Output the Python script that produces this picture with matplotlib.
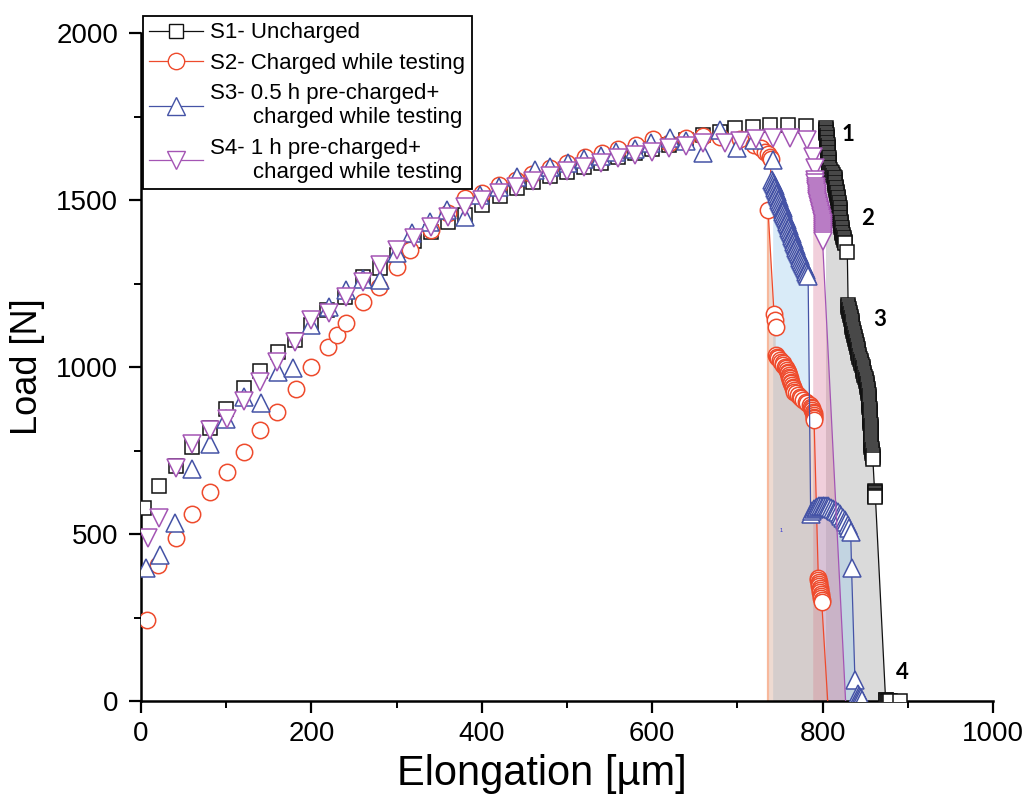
import matplotlib
matplotlib.use("Agg")
import matplotlib.pyplot as plt
from matplotlib.ticker import MultipleLocator
from matplotlib.lines import Line2D
from matplotlib.collections import LineCollection
import numpy as np

# ---------------- data ----------------
# S1 - Uncharged
s1_rise_x = [3, 21, 41, 60, 81, 100, 121, 140, 161, 181, 200, 218, 239, 261, 281, 300, 320, 340, 360, 380,
             400, 421, 441, 460, 480, 500, 520, 540, 560, 580, 600, 620, 640, 660, 680, 697, 718, 738, 759, 781]
s1_rise_y = [578, 644, 704, 761, 818, 873, 938, 989, 1046, 1081, 1126, 1171, 1210, 1270, 1296, 1335, 1378, 1404, 1434, 1455,
             1485, 1512, 1536, 1554, 1572, 1585, 1598, 1612, 1628, 1642, 1652, 1665, 1680, 1695, 1705, 1715, 1718, 1724, 1724, 1722]
s1_drop_x = [804, 804, 804, 804, 805, 805, 805, 805, 805, 805, 806, 806, 806, 806, 806, 806, 806, 806, 807, 807,
             807, 807, 807, 807,
             808, 809, 810, 811, 812, 813, 814, 814,
             815, 815, 815, 816, 816, 816, 817, 817, 817, 818, 818, 818, 818, 819, 819, 819, 820, 820, 820, 820,
             821, 821, 821, 821, 822, 822, 822, 822, 823, 823, 823, 823,
             824, 824, 825, 825, 826, 826,
             829,
             830, 830, 831, 831, 832, 832, 833, 833, 834, 834, 835, 835, 836, 836, 837, 837, 838, 838, 839, 839,
             840, 840,
             841, 841, 842, 843, 843, 844, 845, 845, 846, 847, 847, 848, 849, 849, 850, 851,
             851, 852, 852, 852, 853, 853, 853, 854, 854, 854, 855, 855, 855, 855, 856, 856, 856,
             856, 856, 856, 856, 856, 857, 857, 857, 857, 857, 857, 857, 857, 857, 857, 857, 857,
             858, 858, 858, 859, 859, 859,
             861, 861, 861, 861, 861, 862, 874, 875, 876, 877, 878, 879, 891]
s1_drop_y = [1715, 1710, 1705, 1700, 1695, 1690, 1685, 1680, 1675, 1670, 1665, 1660, 1655, 1650, 1645, 1640, 1635, 1630, 1625, 1620,
             1615, 1610, 1605, 1600,
             1595, 1590, 1585, 1580, 1575, 1570, 1565, 1560,
             1555, 1550, 1545, 1540, 1535, 1530, 1525, 1520, 1515, 1510, 1505, 1500, 1495, 1490, 1485, 1480, 1475, 1470, 1465, 1460,
             1455, 1450, 1445, 1440, 1435, 1430, 1425, 1420, 1415, 1410, 1405, 1400,
             1395, 1390, 1385, 1380, 1375, 1370,
             1344,
             1186, 1180, 1174, 1168, 1162, 1156, 1150, 1144, 1138, 1132, 1126, 1120, 1114, 1108, 1102, 1096, 1090, 1084, 1078, 1072,
             1066, 1060,
             1054, 1048, 1042, 1036, 1030, 1024, 1018, 1012, 1006, 1000, 994, 988, 982, 976, 970, 964,
             958, 952, 946, 940, 934, 928, 922, 916, 910, 904, 898, 892, 886, 880, 874, 868, 862,
             856, 850, 844, 838, 832, 826, 820, 814, 808, 802, 796, 790, 784, 778, 772, 766, 760,
             754, 748, 742, 736, 730, 724,
             630, 626, 622, 618, 614, 611, 2, 2, 1, 1, 1, 0, 0]

# S2 - Charged while testing
s2_rise_x = [7, 20, 41, 60, 81, 101, 121, 140, 160, 182, 200, 220, 230, 241, 261, 279, 300, 316, 340, 360,
             380, 400, 420, 440, 459, 480, 500, 521, 541, 560, 581, 601, 620, 640, 660, 680, 703, 720, 728, 733,
             736, 738, 740]
s2_rise_y = [244, 407, 489, 561, 625, 686, 746, 812, 865, 933, 1001, 1061, 1096, 1133, 1196, 1240, 1300, 1350, 1410, 1460,
             1505, 1522, 1545, 1560, 1578, 1595, 1610, 1628, 1642, 1652, 1665, 1682, 1672, 1685, 1692, 1688, 1682, 1665, 1655, 1645,
             1638, 1630, 1622]
s2_drop_x = [736, 743, 744, 745,
             745, 747, 748, 750, 751, 753, 754, 756,
             757, 758, 759, 759, 760, 761, 762,
             762, 763, 763, 764, 765, 765, 766,
             767, 769, 771, 773, 775,
             777, 780, 782, 785,
             786, 787, 788, 789, 790,
             790, 790, 790, 790,
             795, 795, 796, 796, 796, 797, 797, 797, 798, 798, 798, 799, 799,
             806]
s2_drop_y = [1470, 1160, 1140, 1120,
             1036, 1031, 1026, 1021, 1016, 1011, 1006, 1001,
             996, 991, 986, 981, 976, 971, 966,
             961, 956, 951, 946, 941, 936, 931,
             926, 921, 916, 911, 906,
             901, 896, 891, 886,
             881, 876, 871, 866, 861,
             856, 851, 846, 841,
             368, 362, 356, 350, 344, 338, 332, 326, 320, 314, 308, 302, 296,
             0]

# S3 - 0.5 h pre-charged + charged while testing
s3_rise_x = [6, 22, 40, 60, 81, 100, 121, 141, 161, 179, 200, 221, 241, 261, 280, 300, 318, 339, 359, 380,
             398, 420, 441, 462, 480, 501, 520, 540, 558, 580, 599, 621, 640, 660, 680, 700, 720]
s3_rise_y = [397, 437, 534, 694, 771, 843, 911, 893, 985, 996, 1126, 1181, 1230, 1265, 1262, 1340, 1400, 1435, 1470, 1450,
             1515, 1540, 1570, 1590, 1598, 1610, 1622, 1632, 1645, 1652, 1670, 1685, 1678, 1640, 1710, 1655, 1680]
s3_drop_x = [742,
             741, 742, 743, 744, 744, 745, 746, 747, 748, 749,
             749, 750, 751, 752, 753, 753, 754, 755, 756, 757,
             758, 758, 759, 760, 761, 762, 763, 764, 764, 765,
             766, 767, 768, 769, 769, 770, 771, 772, 773, 774,
             775, 776, 777, 778, 779, 780, 781, 782, 783,
             786, 788, 790, 792, 794, 796, 798, 800, 802, 804, 806, 808, 810, 812, 814, 816, 818, 820, 822, 824,
             826, 828, 830, 831, 833,
             834, 838, 842, 843, 844, 845, 846]
s3_drop_y = [1620,
             1560, 1554, 1548, 1542, 1536, 1530, 1524, 1518, 1512, 1506,
             1500, 1494, 1488, 1482, 1476, 1470, 1464, 1458, 1452, 1446,
             1440, 1434, 1428, 1422, 1416, 1410, 1404, 1398, 1392, 1386,
             1380, 1374, 1368, 1362, 1356, 1350, 1344, 1338, 1332, 1326,
             1320, 1314, 1308, 1302, 1296, 1290, 1284, 1278, 1272,
             560, 568, 574, 578, 581, 583, 584, 585, 585, 584, 583, 581, 579, 576, 573, 569, 565, 560, 555, 549,
             542, 535, 526, 518, 506,
             398, 63, 22, 16, 12, 8, 4]

# S4 - 1 h pre-charged + charged while testing
s4_rise_x = [8, 21, 41, 60, 81, 101, 121, 140, 160, 181, 200, 221, 241, 261, 280, 300, 320, 340, 360, 380,
             400, 420, 440, 460, 480, 500, 520, 540, 560, 580, 600, 620, 640, 660, 685, 703, 722, 742, 762, 782]
s4_rise_y = [488, 547, 697, 771, 811, 843, 899, 955, 1016, 1076, 1141, 1163, 1210, 1256, 1305, 1350, 1385, 1418, 1450, 1478,
             1500, 1522, 1540, 1558, 1572, 1588, 1600, 1612, 1625, 1635, 1645, 1655, 1662, 1670, 1672, 1676, 1682, 1685, 1685, 1680]
s4_drop_x = [789, 791,
             791, 791, 792, 792, 792, 793, 793, 793, 794, 794,
             795, 795, 796, 796, 797, 797, 798, 798, 799, 799,
             800, 800, 800, 800, 800, 800, 800, 800, 800, 800,
             827]
s4_drop_y = [1630, 1595,
             1560, 1550, 1540, 1532, 1526, 1520, 1514, 1508, 1502, 1496,
             1490, 1484, 1478, 1472, 1466, 1460, 1454, 1448, 1442, 1436,
             1430, 1424, 1418, 1412, 1406, 1400, 1394, 1388, 1382, 1376,
             0]

labels = ["S1- Uncharged",
          "S2- Charged while testing",
          "S3- 0.5 h pre-charged+\n       charged while testing",
          "S4- 1 h pre-charged+\n       charged while testing"]
line_colors = ["#111111", "#ee4a2c", "#4553a6", "#a455b4"]
fill_colors = ["#a8a8a8", "#d09a80", "#9ccbee", "#d87898"]
fill_alphas = [0.42, 0.36, 0.38, 0.35]
fill_z = [1.0, 1.3, 1.1, 1.2]
markers = ["s", "o", "^", "v"]
marker_sizes = [10.3, 11.8, 12.5, 12.5]
skip_last_marker = [False, True, False, True]

point_labels = ["1", "2", "3", "4"]
point_label_x = [830, 853, 867, 894]
point_label_y = [1695, 1446, 1141, 84]

# ---------------- figure ----------------
plt.rcParams['font.family'] = ['Liberation Sans', 'DejaVu Sans']
fig = plt.figure(figsize=(10.29, 8.11), dpi=100)
ax = fig.add_axes([0.137, 0.1356, 0.828, 0.8237])
ax.set_xlim(0, 1000)
ax.set_ylim(0, 2000)

series = [(s1_rise_x, s1_rise_y, s1_drop_x, s1_drop_y),
          (s2_rise_x, s2_rise_y, s2_drop_x, s2_drop_y),
          (s3_rise_x, s3_rise_y, s3_drop_x, s3_drop_y),
          (s4_rise_x, s4_rise_y, s4_drop_x, s4_drop_y)]

# shaded fracture regions
for i, (rx, ry, dx, dy) in enumerate(series):
    px = list(dx) + [dx[-1], dx[0]]
    py = list(dy) + [0, 0]
    ax.fill(px, py, facecolor=fill_colors[i], alpha=fill_alphas[i],
            edgecolor="none", zorder=fill_z[i])
    if i == 1:
        ax.plot([dx[0], dx[0]], [0, dy[0]], color="#f7b89c", lw=1.6, zorder=1.5)

# connecting lines (drawn only where points are far apart, like Origin's gap-to-symbol)
handles = []
for i, (rx, ry, dx, dy) in enumerate(series):
    x = np.array(list(rx) + list(dx), dtype=float)
    y = np.array(list(ry) + list(dy), dtype=float)
    pts = ax.transData.transform(np.column_stack([x, y]))
    start = len(rx) - 1
    segs = []
    for k in range(start, len(x) - 1):
        d = np.hypot(*(pts[k + 1] - pts[k]))
        if d > 30:
            segs.append([(x[k], y[k]), (x[k + 1], y[k + 1])])
    ax.add_collection(LineCollection(segs, colors=line_colors[i], linewidths=0.9, zorder=2 + i))
    n = len(x) - 1 if skip_last_marker[i] else len(x)
    ax.plot(x[:n], y[:n], ls="none", marker=markers[i], ms=marker_sizes[i],
            mfc="white", mec=line_colors[i], mew=1.1, zorder=3 + i)
    handles.append(Line2D([0], [0], color=line_colors[i], lw=0.9, marker=markers[i],
                          ms=marker_sizes[i], mfc="white", mec=line_colors[i], mew=1.0))

for t, tx, ty in zip(point_labels, point_label_x, point_label_y):
    ax.text(tx, ty, t, fontsize=16, fontweight="bold", family=["Lato", "DejaVu Sans"],
            ha="center", va="center", color="black", zorder=10)

ax.text(751, 512, "1", fontsize=4, color="#3030d0", ha="center", va="center", zorder=10)

ax.xaxis.set_major_locator(MultipleLocator(200))
ax.xaxis.set_minor_locator(MultipleLocator(100))
ax.yaxis.set_major_locator(MultipleLocator(500))
ax.yaxis.set_minor_locator(MultipleLocator(250))
ax.tick_params(which="major", direction="out", length=8.5, width=1.6, labelsize=20, pad=6)
ax.tick_params(which="minor", direction="out", length=5, width=1.4)
ax.tick_params(axis="y", which="major", pad=8)
for side in ("top", "right"):
    ax.spines[side].set_visible(False)
for side in ("left", "bottom"):
    ax.spines[side].set_linewidth(1.8)

ax.set_xlabel("Elongation [µm]", fontsize=30)
ax.xaxis.set_label_coords(0.471, -0.08)
ax.set_ylabel("Load [N]", fontsize=26, labelpad=8)

leg = ax.legend(handles=handles, labels=labels, loc="upper left", bbox_to_anchor=(0.002, 1.026),
                borderaxespad=0, fontsize=16, frameon=True, fancybox=False,
                edgecolor="black", framealpha=1, handlelength=2.4, handletextpad=0.35,
                borderpad=0.3, labelspacing=0.42, numpoints=1)
leg.get_frame().set_linewidth(1.3)
leg.set_zorder(20)

fig.savefig("out.png", dpi=100)
